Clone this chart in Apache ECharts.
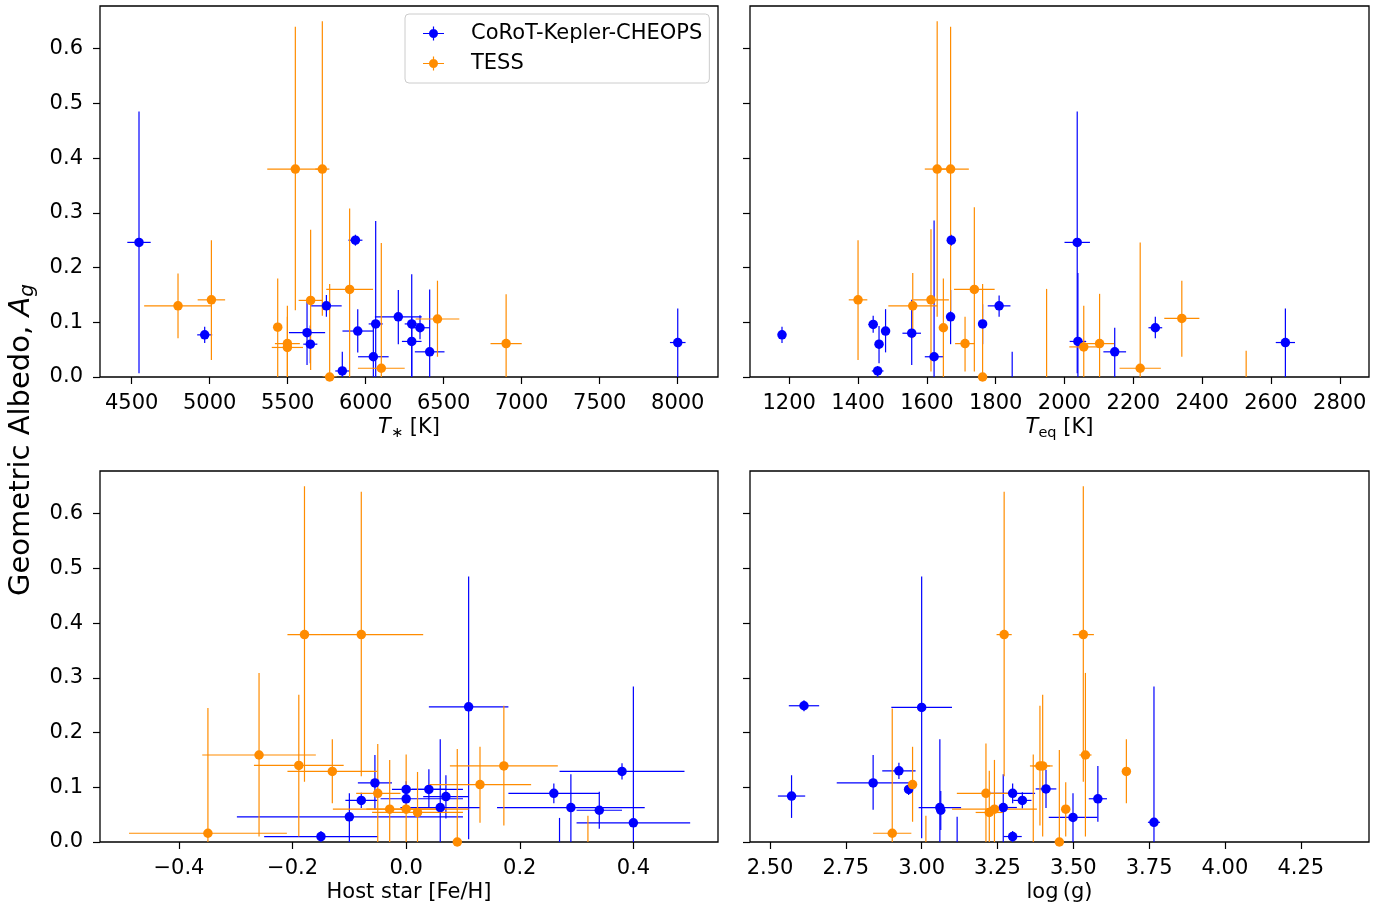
<!DOCTYPE html>
<html>
<head>
<meta charset="utf-8">
<script src="https://cdn.jsdelivr.net/npm/echarts@6/dist/echarts.min.js"></script>
<style>
  html, body { margin: 0; padding: 0; background: #fff; }
  #chart { width: 1397px; height: 910px; }
</style>
</head>
<body>
<div id="chart"></div>
<script>
// each row: [x, xLow, xHigh, albedo, albedoLow, albedoHigh]
var teffKepler = [
  [4547, 4472, 4622, 0.246, 0.007, 0.485],
  [4968, 4920, 5016, 0.077, 0.062, 0.092],
  [5624, 5508, 5740, 0.081, 0.022, 0.138],
  [5645, 5600, 5690, 0.060, 0.025, 0.094],
  [5748, 5650, 5846, 0.130, 0.110, 0.150],
  [5850, 5805, 5895, 0.011, 0.000, 0.046],
  [5934, 5889, 5979, 0.250, 0.240, 0.260],
  [5949, 5851, 6047, 0.084, 0.045, 0.124],
  [6064, 6019, 6109, 0.097, 0.000, 0.285],
  [6049, 5951, 6147, 0.037, 0.000, 0.090],
  [6209, 6059, 6359, 0.110, 0.060, 0.159],
  [6295, 6250, 6340, 0.097, 0.000, 0.188],
  [6295, 6232, 6358, 0.065, 0.000, 0.110],
  [6348, 6285, 6411, 0.090, 0.069, 0.113],
  [6410, 6315, 6505, 0.046, 0.000, 0.160],
  [8000, 7950, 8050, 0.063, 0.000, 0.125]
];
var teffTess = [
  [4797, 4580, 5011, 0.130, 0.071, 0.189],
  [5011, 4923, 5099, 0.141, 0.031, 0.250],
  [5436, 5410, 5462, 0.091, 0.000, 0.180],
  [5498, 5418, 5578, 0.061, 0.000, 0.130],
  [5498, 5398, 5598, 0.054, 0.000, 0.110],
  [5549, 5369, 5729, 0.380, 0.122, 0.640],
  [5722, 5677, 5767, 0.380, 0.112, 0.650],
  [5647, 5570, 5724, 0.140, 0.013, 0.269],
  [5769, 5724, 5814, 0.000, 0.000, 0.170],
  [5897, 5747, 6047, 0.160, 0.000, 0.308],
  [6100, 5950, 6250, 0.016, 0.000, 0.245],
  [6460, 6320, 6600, 0.106, 0.037, 0.176],
  [6900, 6800, 7000, 0.061, 0.000, 0.151]
];
var teqKepler = [
  [1179, 1170, 1188, 0.077, 0.062, 0.092],
  [1444, 1430, 1458, 0.096, 0.081, 0.112],
  [1461, 1452, 1470, 0.060, 0.025, 0.093],
  [1457, 1440, 1474, 0.011, 0.000, 0.020],
  [1480, 1471, 1489, 0.084, 0.045, 0.124],
  [1556, 1529, 1583, 0.080, 0.022, 0.141],
  [1621, 1594, 1648, 0.037, 0.000, 0.286],
  [1671, 1662, 1680, 0.250, 0.240, 0.260],
  [1669, 1660, 1678, 0.110, 0.060, 0.159],
  [1762, 1753, 1771, 0.097, 0.060, 0.133],
  [1810, 1777, 1843, 0.130, 0.110, 0.149],
  [1848, 1848, 1848, -0.020, -0.020, 0.046],
  [2037, 2000, 2074, 0.246, 0.007, 0.485],
  [2039, 2015, 2063, 0.065, 0.000, 0.190],
  [2146, 2113, 2179, 0.046, 0.000, 0.090],
  [2264, 2244, 2284, 0.090, 0.071, 0.110],
  [2642, 2614, 2670, 0.063, 0.000, 0.125]
];
var teqTess = [
  [1400, 1373, 1427, 0.141, 0.031, 0.250],
  [1559, 1488, 1630, 0.130, 0.071, 0.190],
  [1612, 1560, 1664, 0.141, 0.010, 0.270],
  [1630, 1594, 1666, 0.380, 0.110, 0.650],
  [1669, 1625, 1722, 0.380, 0.120, 0.640],
  [1648, 1640, 1656, 0.090, 0.000, 0.180],
  [1711, 1682, 1740, 0.061, 0.010, 0.110],
  [1738, 1679, 1797, 0.160, 0.010, 0.310],
  [1762, 1755, 1769, 0.000, 0.000, 0.170],
  [1948, 1948, 1948, -0.020, -0.020, 0.161],
  [2056, 2014, 2098, 0.055, 0.000, 0.130],
  [2102, 2060, 2144, 0.061, 0.000, 0.152],
  [2220, 2160, 2280, 0.016, 0.000, 0.246],
  [2341, 2290, 2392, 0.107, 0.037, 0.176],
  [2528, 2528, 2528, -0.020, -0.020, 0.048]
];
var fehKepler = [
  [-0.055, -0.085, -0.025, 0.108, 0.059, 0.159],
  [-0.079, -0.107, -0.051, 0.076, 0.062, 0.090],
  [-0.100, -0.298, 0.100, 0.046, 0.000, 0.089],
  [-0.150, -0.250, -0.050, 0.010, 0.000, 0.020],
  [0.000, -0.025, 0.100, 0.096, 0.081, 0.111],
  [0.000, -0.045, 0.100, 0.079, 0.065, 0.093],
  [0.040, 0.010, 0.070, 0.096, 0.062, 0.133],
  [0.070, 0.030, 0.110, 0.083, 0.043, 0.122],
  [0.060, -0.010, 0.130, 0.063, 0.000, 0.188],
  [0.110, 0.040, 0.180, 0.247, 0.005, 0.485],
  [0.260, 0.180, 0.340, 0.089, 0.071, 0.107],
  [0.290, 0.160, 0.420, 0.063, 0.000, 0.124],
  [0.340, 0.300, 0.380, 0.058, 0.024, 0.092],
  [0.380, 0.270, 0.490, 0.129, 0.114, 0.144],
  [0.400, 0.300, 0.500, 0.035, 0.000, 0.284],
  [0.270, 0.270, 0.270, -0.020, -0.020, 0.044]
];
var fehTess = [
  [-0.349, -0.488, -0.210, 0.016, 0.000, 0.245],
  [-0.259, -0.359, -0.159, 0.159, 0.010, 0.309],
  [-0.189, -0.268, -0.110, 0.140, 0.010, 0.269],
  [-0.179, -0.209, -0.150, 0.379, 0.110, 0.650],
  [-0.079, -0.150, 0.030, 0.379, 0.120, 0.640],
  [-0.130, -0.209, -0.051, 0.129, 0.071, 0.188],
  [-0.050, -0.088, -0.010, 0.089, 0.000, 0.179],
  [-0.029, -0.129, 0.070, 0.060, 0.000, 0.150],
  [0.000, -0.070, 0.110, 0.060, 0.000, 0.160],
  [0.020, -0.060, 0.100, 0.054, 0.000, 0.128],
  [0.090, 0.090, 0.090, 0.000, 0.000, 0.170],
  [0.130, 0.040, 0.220, 0.105, 0.035, 0.174],
  [0.172, 0.077, 0.267, 0.139, 0.030, 0.249],
  [0.320, 0.320, 0.320, -0.020, -0.020, 0.048]
];
var loggKepler = [
  [2.612, 2.562, 2.662, 0.249, 0.239, 0.259],
  [2.571, 2.526, 2.616, 0.084, 0.044, 0.122],
  [2.840, 2.720, 2.960, 0.108, 0.059, 0.159],
  [2.925, 2.870, 2.980, 0.130, 0.115, 0.145],
  [2.957, 2.947, 2.967, 0.096, 0.086, 0.106],
  [3.000, 2.900, 3.100, 0.246, 0.007, 0.485],
  [3.060, 2.990, 3.130, 0.063, 0.000, 0.188],
  [3.063, 3.053, 3.073, 0.058, 0.022, 0.093],
  [3.117, 3.117, 3.117, -0.020, -0.020, 0.046],
  [3.269, 3.224, 3.314, 0.063, 0.000, 0.124],
  [3.300, 3.226, 3.374, 0.089, 0.071, 0.107],
  [3.332, 3.302, 3.362, 0.076, 0.061, 0.091],
  [3.300, 3.270, 3.330, 0.010, 0.000, 0.020],
  [3.410, 3.376, 3.444, 0.097, 0.062, 0.132],
  [3.581, 3.551, 3.611, 0.079, 0.037, 0.139],
  [3.499, 3.419, 3.579, 0.045, 0.000, 0.089],
  [3.766, 3.746, 3.786, 0.036, 0.000, 0.284]
];
var loggTess = [
  [2.903, 2.840, 2.966, 0.016, 0.000, 0.244],
  [2.970, 2.960, 2.980, 0.105, 0.037, 0.174],
  [3.014, 3.014, 3.014, -0.020, -0.020, 0.048],
  [3.212, 3.116, 3.308, 0.089, 0.000, 0.180],
  [3.223, 3.178, 3.268, 0.054, 0.000, 0.130],
  [3.240, 3.100, 3.380, 0.060, 0.000, 0.150],
  [3.272, 3.247, 3.297, 0.379, 0.120, 0.640],
  [3.368, 3.368, 3.368, -0.020, -0.020, 0.160],
  [3.390, 3.357, 3.423, 0.139, 0.030, 0.249],
  [3.399, 3.366, 3.432, 0.139, 0.010, 0.269],
  [3.454, 3.444, 3.464, 0.000, 0.000, 0.168],
  [3.475, 3.465, 3.485, 0.060, 0.010, 0.109],
  [3.533, 3.498, 3.568, 0.379, 0.110, 0.650],
  [3.540, 3.520, 3.560, 0.159, 0.010, 0.309],
  [3.675, 3.665, 3.685, 0.129, 0.071, 0.188]
];

var teffTicks = [4500, 5000, 5500, 6000, 6500, 7000, 7500, 8000];
var teqTicks = [1200, 1400, 1600, 1800, 2000, 2200, 2400, 2600, 2800];
var fehTicks = [-0.4, -0.2, 0, 0.2, 0.4];
var loggTicks = [2.5, 2.75, 3, 3.25, 3.5, 3.75, 4, 4.25];
var albedoTicks = [0, 0.1, 0.2, 0.3, 0.4, 0.5, 0.6];

var BLUE = '#0000ff';
var ORANGE = '#ff8c00';
var FONT = '"DejaVu Sans", sans-serif';
var FS = 21;
var ICON = 'path://M0,6.4H21V7.6H0Z M9.9,0H11.1V14H9.9Z M15,7A4.5,4.5 0 1 1 6,7A4.5,4.5 0 1 1 15,7Z';

var chart = echarts.init(document.getElementById('chart'));

var grids = [
  { left: 100, top: 6, width: 618, height: 371 },
  { left: 750, top: 6, width: 619, height: 371 },
  { left: 100, top: 471, width: 618, height: 371 },
  { left: 750, top: 471, width: 619, height: 371 }
].map(function (g) {
  return Object.assign({ show: true, borderColor: '#000', borderWidth: 1.3, backgroundColor: '#fff' }, g);
});

var nameRich = {
  n: { fontSize: FS, fontFamily: FONT, color: '#000' },
  i: { fontSize: FS, fontFamily: FONT, fontStyle: 'italic', color: '#000' },
  s: { fontSize: 14.5, fontFamily: FONT, color: '#000', padding: [12, 0, 0, 0] }
};

function xAxis(idx, min, max, ticks, fmt, name, gap) {
  return {
    type: 'value', gridIndex: idx, min: min, max: max,
    axisLine: { show: false, onZero: false },
    splitLine: { show: false },
    axisTick: { show: true, length: 7, lineStyle: { color: '#000', width: 1.2 }, customValues: ticks },
    axisLabel: { customValues: ticks, formatter: fmt, margin: 16, color: '#000', fontSize: FS, fontFamily: FONT },
    name: name, nameLocation: 'middle', nameGap: gap,
    nameTextStyle: { color: '#000', fontSize: FS, fontFamily: FONT, rich: nameRich }
  };
}

function yAxis(idx, labels) {
  return {
    type: 'value', gridIndex: idx, min: 0, max: 0.678,
    axisLine: { show: false, onZero: false },
    splitLine: { show: false },
    axisTick: { show: true, length: 7, lineStyle: { color: '#000', width: 1.2 }, customValues: albedoTicks },
    axisLabel: {
      show: labels, customValues: albedoTicks, margin: 17, color: '#000', fontSize: FS, fontFamily: FONT,
      formatter: function (v) { return v.toFixed(1); }
    }
  };
}

function minusFmt(d) {
  return function (v) { return (v < 0 ? '\u2212' : '') + Math.abs(v).toFixed(d); };
}

function renderBars(params, api) {
  var c = api.visual('color');
  var y = api.value(3), x = api.value(0);
  var l = api.coord([api.value(1), y]);
  var r = api.coord([api.value(2), y]);
  var b = api.coord([x, api.value(4)]);
  var t = api.coord([x, api.value(5)]);
  var st = { stroke: c, lineWidth: 1.2 };
  return {
    type: 'group',
    children: [
      { type: 'line', shape: { x1: l[0], y1: l[1], x2: r[0], y2: r[1] }, style: st },
      { type: 'line', shape: { x1: b[0], y1: b[1], x2: t[0], y2: t[1] }, style: st }
    ]
  };
}

function errSeries(name, data, idx, color) {
  return [
    {
      type: 'custom', name: name, xAxisIndex: idx, yAxisIndex: idx, clip: true, silent: true,
      itemStyle: { color: color }, renderItem: renderBars,
      encode: { x: [0, 1, 2], y: [3, 4, 5] }, data: data
    },
    {
      type: 'scatter', name: name, xAxisIndex: idx, yAxisIndex: idx, clip: true, silent: true,
      symbol: 'circle', symbolSize: 9.5, itemStyle: { color: color, opacity: 1 },
      data: data.map(function (d) { return [d[0], d[3]]; })
    }
  ];
}

var series = [].concat(
  errSeries('CoRoT-Kepler-CHEOPS', teffKepler, 0, BLUE), errSeries('TESS', teffTess, 0, ORANGE),
  errSeries('CoRoT-Kepler-CHEOPS', teqKepler, 1, BLUE), errSeries('TESS', teqTess, 1, ORANGE),
  errSeries('CoRoT-Kepler-CHEOPS', fehKepler, 2, BLUE), errSeries('TESS', fehTess, 2, ORANGE),
  errSeries('CoRoT-Kepler-CHEOPS', loggKepler, 3, BLUE), errSeries('TESS', loggTess, 3, ORANGE)
);

var option = {
  backgroundColor: '#fff',
  animation: false,
  grid: grids,
  xAxis: [
    xAxis(0, 4297, 8258, teffTicks, function (v) { return String(v); }, '{i|T}{s|\u2217} {n|[K]}', 37),
    xAxis(1, 1086, 2885, teqTicks, function (v) { return String(v); }, '{i|T}{s|eq} {n|[K]}', 37),
    xAxis(2, -0.539, 0.549, fehTicks, minusFmt(1), '{n|Host star [Fe/H]}', 40),
    xAxis(3, 2.434, 4.475, loggTicks, minusFmt(2), '{n|log\u2009(g)}', 40)
  ],
  yAxis: [yAxis(0, true), yAxis(1, false), yAxis(2, true), yAxis(3, false)],
  legend: {
    orient: 'vertical', left: 405, top: 14, selectedMode: false,
    padding: [9, 7, 9, 18], itemGap: 9, itemWidth: 21, itemHeight: 14,
    borderColor: '#cccccc', borderWidth: 1, borderRadius: 4, backgroundColor: 'rgba(255,255,255,0.8)',
    textStyle: { color: '#000', fontSize: FS, fontFamily: FONT, padding: [0, 0, 0, 22], lineHeight: 20 },
    data: [
      { name: 'CoRoT-Kepler-CHEOPS', icon: ICON, itemStyle: { color: BLUE } },
      { name: 'TESS', icon: ICON, itemStyle: { color: ORANGE } }
    ]
  },
  graphic: [{
    type: 'text', x: 21, y: 440, rotation: Math.PI / 2,
    style: {
      text: '{n|Geometric Albedo, }{i|A}{s|g}',
      align: 'center', verticalAlign: 'middle',
      rich: {
        n: { fontSize: 29, fontFamily: FONT, color: '#000' },
        i: { fontSize: 29, fontFamily: FONT, fontStyle: 'italic', color: '#000' },
        s: { fontSize: 20, fontFamily: FONT, fontStyle: 'italic', color: '#000', padding: [14, 0, 0, 0] }
      }
    }
  }],
  series: series
};

chart.setOption(option);
</script>
</body>
</html>
